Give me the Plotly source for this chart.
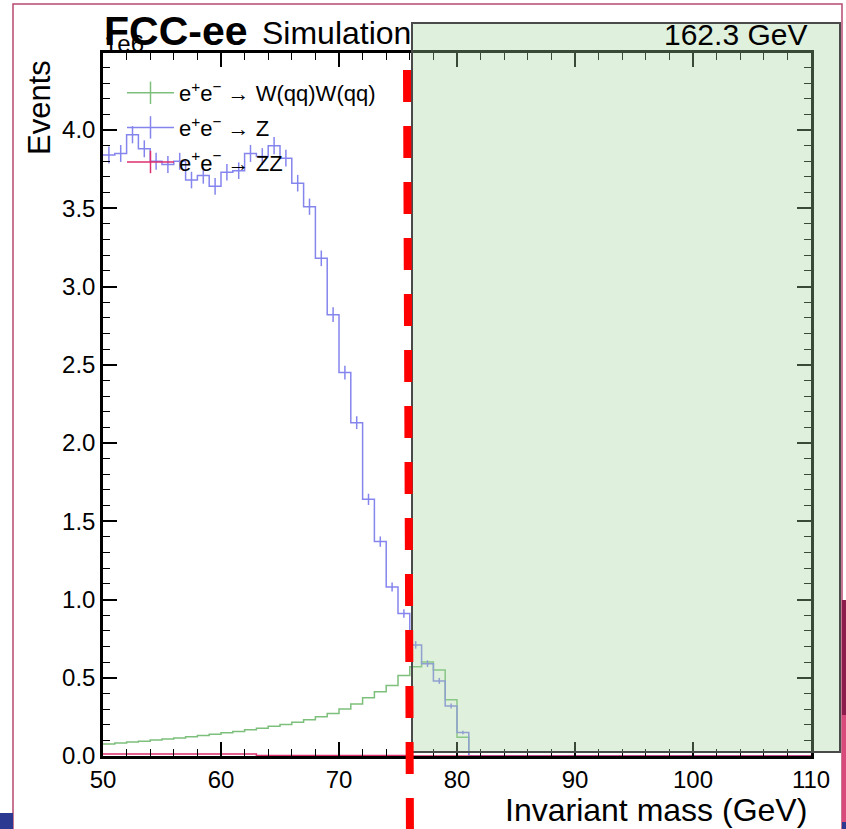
import plotly.graph_objects as go

# ---------------- data ----------------
bin_edges = list(range(50, 111))          # 1 GeV bins, 50 -> 110 GeV
x_tick_vals = [50, 60, 70, 80, 90, 100, 110]
y_tick_vals = [0.0, 0.5, 1.0, 1.5, 2.0, 2.5, 3.0, 3.5, 4.0]

# events (x 1e6) per bin
ww_values = [0.077, 0.083, 0.089, 0.095, 0.102, 0.108, 0.115, 0.123, 0.131, 0.139,
             0.148, 0.157, 0.167, 0.178, 0.190, 0.202, 0.216, 0.231, 0.250, 0.272,
             0.300, 0.333, 0.372, 0.410, 0.450, 0.515, 0.570, 0.600, 0.550, 0.360,
             0.120, 0.0, 0.0, 0.0, 0.0, 0.0, 0.0, 0.0, 0.0, 0.0,
             0.0, 0.0, 0.0, 0.0, 0.0, 0.0, 0.0, 0.0, 0.0, 0.0,
             0.0, 0.0, 0.0, 0.0, 0.0, 0.0, 0.0, 0.0, 0.0, 0.0]

z_values = [3.84, 3.85, 3.97, 3.88, 3.80, 3.78, 3.80, 3.68, 3.71, 3.64,
            3.73, 3.74, 3.85, 3.83, 3.90, 3.82, 3.66, 3.51, 3.18, 2.82,
            2.45, 2.13, 1.64, 1.37, 1.08, 0.91, 0.71, 0.59, 0.48, 0.32,
            0.15, 0.0, 0.0, 0.0, 0.0, 0.0, 0.0, 0.0, 0.0, 0.0,
            0.0, 0.0, 0.0, 0.0, 0.0, 0.0, 0.0, 0.0, 0.0, 0.0,
            0.0, 0.0, 0.0, 0.0, 0.0, 0.0, 0.0, 0.0, 0.0, 0.0]

z_errors = [0.054, 0.054, 0.055, 0.054, 0.054, 0.054, 0.054, 0.053, 0.053, 0.053,
            0.053, 0.053, 0.054, 0.054, 0.055, 0.054, 0.053, 0.052, 0.050, 0.047,
            0.044, 0.041, 0.036, 0.033, 0.029, 0.027, 0.024, 0.021, 0.019, 0.016,
            0.011, 0.0, 0.0, 0.0, 0.0, 0.0, 0.0, 0.0, 0.0, 0.0,
            0.0, 0.0, 0.0, 0.0, 0.0, 0.0, 0.0, 0.0, 0.0, 0.0,
            0.0, 0.0, 0.0, 0.0, 0.0, 0.0, 0.0, 0.0, 0.0, 0.0]

zz_values = [0.012, 0.012, 0.012, 0.012, 0.012, 0.012, 0.012, 0.012, 0.012, 0.012,
             0.012, 0.012, 0.012, 0.003, 0.003, 0.003, 0.003, 0.003, 0.003, 0.003,
             0.003, 0.003, 0.003, 0.003, 0.003, 0.003, 0.0, 0.0, 0.0, 0.0,
             0.0, 0.0, 0.0, 0.0, 0.0, 0.0, 0.0, 0.0, 0.0, 0.0,
             0.0, 0.0, 0.0, 0.0, 0.0, 0.0, 0.0, 0.0, 0.0, 0.0,
             0.0, 0.0, 0.0, 0.0, 0.0, 0.0, 0.0, 0.0, 0.0, 0.0]

labels = ["e<sup>+</sup>e<sup>\u2212</sup> \u2192 W(qq)W(qq)",
          "e<sup>+</sup>e<sup>\u2212</sup> \u2192 Z",
          "e<sup>+</sup>e<sup>\u2212</sup> \u2192 ZZ"]
colors = ["#7cc07c", "#8585ee", "#dc2f6e"]

# ---------------- geometry helpers (overlay decorations only) ----------------
W, H = 846, 829
L, R, T, B = 103, 35, 53, 73
PW, PH = W - L - R, H - T - B
FONT = "Liberation Sans, Arial, sans-serif"


def px_x(p):
    return (p - L) / PW


def px_y(p):
    return (T + PH - p) / PH


fig = go.Figure()

centers = [e + 0.5 for e in bin_edges[:-1]]
series = [ww_values, z_values, zz_values]
for vals, col in zip(series, colors):
    fig.add_trace(go.Scatter(
        x=bin_edges, y=vals + [vals[-1]], mode="lines", line_shape="hv",
        line=dict(color=col, width=1.5), showlegend=False, hoverinfo="skip"))

# error bars for Z
fig.add_trace(go.Scatter(
    x=centers, y=z_values, mode="markers",
    marker=dict(size=2, opacity=0, color=colors[1]),
    error_y=dict(type="data", array=z_errors, visible=True, width=0,
                 thickness=1.5, color=colors[1]),
    showlegend=False, hoverinfo="skip"))

# legend entries (cross symbols)
for i, (lab, col) in enumerate(zip(labels, colors)):
    fig.add_trace(go.Scatter(
        x=[None], y=[None], mode="lines+markers", name=lab,
        legendgroup=f"g{i}",
        line=dict(color=col, width=1.5),
        marker=dict(symbol="line-ns", size=16, color=col,
                    line=dict(color=col, width=1.5))))

axis_common = dict(
    showline=True, linewidth=2.5, linecolor="black", mirror="ticks",
    ticks="inside", ticklen=14, tickwidth=1.5, tickcolor="black",
    showgrid=False, zeroline=False,
    tickfont=dict(family=FONT, size=24, color="black"),
)

fig.update_xaxes(range=[50, 110], tickvals=x_tick_vals,
                 minor=dict(dtick=2, ticks="inside", ticklen=7, tickwidth=1.2,
                            tickcolor="black", showgrid=False),
                 **axis_common)
fig.update_yaxes(range=[0, 4.492], tickvals=y_tick_vals, tickformat=".1f",
                 minor=dict(dtick=0.1, ticks="inside", ticklen=7, tickwidth=1.2,
                            tickcolor="black", showgrid=False),
                 **axis_common)

shapes = []
# slide frame
shapes.append(dict(type="rect", xref="paper", yref="paper",
                   x0=px_x(13), x1=px_x(842), y0=px_y(845), y1=px_y(4),
                   line=dict(color="#b84a72", width=1.5), layer="above"))
# slide decorations on the edges
shapes.append(dict(type="rect", xref="paper", yref="paper",
                   x0=px_x(842), x1=px_x(850), y0=px_y(715), y1=px_y(600),
                   fillcolor="#8c1c4c", line=dict(width=0), layer="above"))
shapes.append(dict(type="rect", xref="paper", yref="paper",
                   x0=px_x(842), x1=px_x(850), y0=px_y(822), y1=px_y(715),
                   fillcolor="#d94a7c", line=dict(width=0), layer="above"))
shapes.append(dict(type="rect", xref="paper", yref="paper",
                   x0=px_x(842), x1=px_x(850), y0=px_y(835), y1=px_y(822),
                   fillcolor="#2b3990", line=dict(width=0), layer="above"))
shapes.append(dict(type="rect", xref="paper", yref="paper",
                   x0=px_x(-5), x1=px_x(13), y0=px_y(835), y1=px_y(813),
                   fillcolor="#2b3990", line=dict(width=0), layer="above"))
# green highlight box
shapes.append(dict(type="rect", xref="paper", yref="paper",
                   x0=px_x(412), x1=px_x(840), y0=px_y(752), y1=px_y(23),
                   fillcolor="rgba(164,212,155,0.35)",
                   line=dict(color="#4a4a4a", width=2), layer="above"))
# red dashed cut line
shapes.append(dict(type="line", xref="paper", yref="paper",
                   x0=px_x(407), x1=px_x(410), y0=px_y(70), y1=px_y(845),
                   line=dict(color="#ff0000", width=8, dash="32px,24px"),
                   layer="above"))

annotations = [
    dict(text="<b>FCC-ee</b>", x=px_x(102), y=px_y(31), xanchor="left",
         yanchor="middle", font=dict(family=FONT, size=41, color="black")),
    dict(text="Simulation", x=px_x(260), y=px_y(33), xanchor="left",
         yanchor="middle", font=dict(family=FONT, size=32, color="black")),
    dict(text="1e6", x=px_x(102), y=px_y(43), xanchor="left",
         yanchor="middle", font=dict(family=FONT, size=24, color="black")),
    dict(text="162.3 GeV", x=px_x(809), y=px_y(34), xanchor="right",
         yanchor="middle", font=dict(family=FONT, size=30, color="black")),
    dict(text="Invariant mass (GeV)", x=px_x(809), y=px_y(810), xanchor="right",
         yanchor="middle", font=dict(family=FONT, size=32, color="black")),
    dict(text="Events", x=px_x(39), y=px_y(108), xanchor="center",
         yanchor="middle", textangle=-90,
         font=dict(family=FONT, size=31, color="black")),
]
for a in annotations:
    a.update(xref="paper", yref="paper", showarrow=False)

fig.update_layout(
    width=W, height=H,
    margin=dict(l=L, r=R, t=T, b=B),
    paper_bgcolor="white", plot_bgcolor="white",
    shapes=shapes, annotations=annotations,
    legend=dict(x=px_x(122), y=px_y(72), xanchor="left", yanchor="top",
                bgcolor="rgba(0,0,0,0)", tracegroupgap=3, itemwidth=47,
                font=dict(family=FONT, size=22, color="black")),
    font=dict(family=FONT, color="black"),
)

fig.write_html("out.html", config={"displayModeBar": False},
               post_script="document.body.style.margin='0';"
                           "document.body.style.overflow='hidden';")
